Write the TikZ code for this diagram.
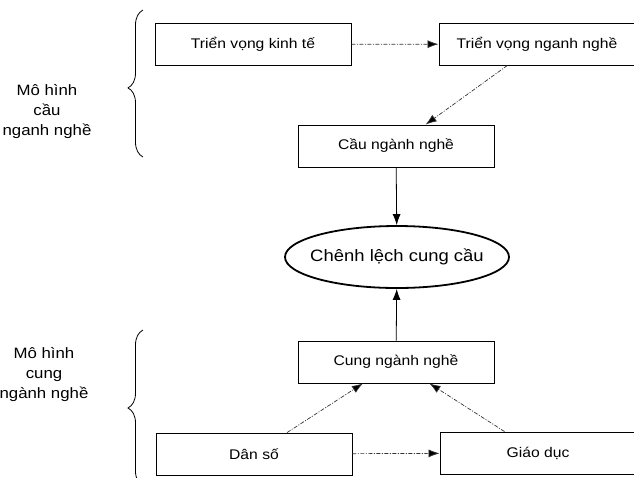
\documentclass[tikz,border=0pt]{standalone}
\usepackage{fontspec}
\setmainfont{Liberation Sans}[FakeStretch=1.12]
\usetikzlibrary{arrows.meta,shapes.geometric,decorations.pathreplacing}

\begin{document}
\begin{tikzpicture}[x=1pt,y=-1pt,
				thin,main node/.style = {rectangle,draw,line width=0.9pt, minimum width = 196pt, minimum height = 42pt, inner sep = 0pt, font=\fontsize{14}{16}\selectfont},
				gap node/.style = {ellipse,draw,line width=1.8pt, minimum width = 224pt, minimum height = 62pt, inner xsep = -14pt, inner ysep = 0pt, font=\fontsize{16.5}{19}\selectfont},
				side label/.style = {align=center, font=\fontsize{15}{20}\selectfont},
				dash line/.style = {draw=black!80, line width=0.7pt, dash pattern=on 4pt off 1.5pt on 1pt off 1.5pt, -{Latex[length=11pt,width=8pt]}},
				full line/.style = {draw=black, line width=0.8pt, -{Latex[length=11pt,width=8pt]}},
				side brace/.style = {draw, line width=0.8pt, decorate}]
				\useasboundingbox (0,0) rectangle (634,477);
				\clip (0,0) rectangle (634,477);
				\node[main node] (1) at (253,44.5) {Triển vọng kinh tế};
				\node[main node] (2) at (537,44) {Triển vọng nganh nghề};
				\node[main node] (3) at (396,146) {Cầu ngành nghề};
				\node[gap node] (4) at (397,257) {Chênh lệch cung cầu};
				\node[main node] (5) at (396,362) {Cung ngành nghề};
				\node[main node] (6) at (254,454) {Dân số};
				\node[main node] (7) at (538,453) {Giáo dục};
				\node[side label] (8) at (47,112) {Mô hình\\cầu\\nganh nghề};
				\node[side label] (9) at (44,375) {Mô hình\\cung\\ngành nghề};
				
				\path[dash line]
				(1) edge (2)
				(2) edge (3)
				(6) edge (7)
				edge (5)
				(7) edge (5);
				\path[full line]
				(3) edge (4)
				(5) edge (4);
				
				\draw[side brace, decoration={brace,amplitude=15pt,aspect=0.47}] (143,157) -- (143,10);
				\draw[side brace, decoration={brace,amplitude=15pt,aspect=0.5}] (143,486) -- (143,330);
\end{tikzpicture}
\end{document}
